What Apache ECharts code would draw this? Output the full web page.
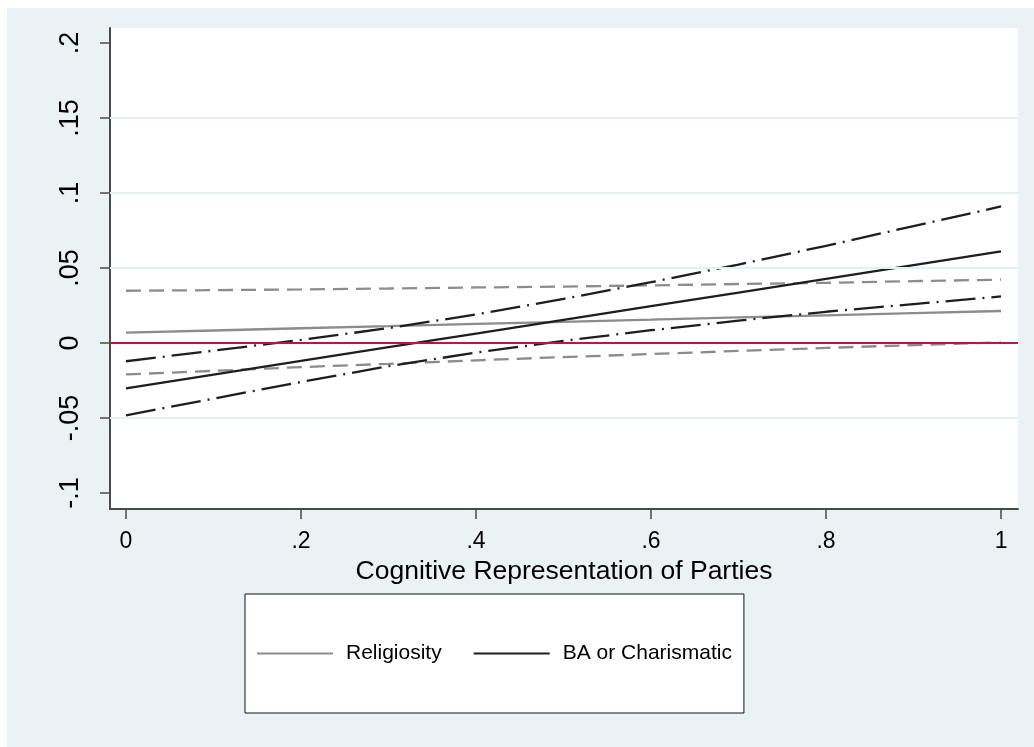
<!DOCTYPE html>
<html>
<head>
<meta charset="utf-8">
<title>Cognitive Representation of Parties</title>
<script src="https://cdn.jsdelivr.net/npm/echarts@6/dist/echarts.min.js"></script>
<style>
  html, body { margin: 0; padding: 0; background: #ffffff; width: 1034px; height: 747px; overflow: hidden; }
  #chart { position: absolute; left: 7px; top: 8px; width: 1027px; height: 739px; }
</style>
</head>
<body>
<div id="chart"></div>
<script>
// Predicted effects across cognitive representation of parties (0..1)
const xValues = [0, 0.1, 0.2, 0.3, 0.4, 0.5, 0.6, 0.7, 0.8, 0.9, 1];

// Religiosity: estimate with upper / lower confidence bounds
const religiosity   = [0.0069, 0.0083, 0.0098, 0.0112, 0.0127, 0.0141, 0.0155, 0.0170, 0.0184, 0.0199, 0.0213];
const religiosityHi = [0.0348, 0.0352, 0.0357, 0.0363, 0.0370, 0.0376, 0.0384, 0.0393, 0.0401, 0.0412, 0.0422];
const religiosityLo = [-0.0210, -0.0186, -0.0161, -0.0139, -0.0116, -0.0094, -0.0074, -0.0053, -0.0033, -0.0014, 0.0004];

// BA or Charismatic: estimate with upper / lower confidence bounds
const baCharismatic   = [-0.0302, -0.0211, -0.0120, -0.0028, 0.0063, 0.0154, 0.0245, 0.0336, 0.0428, 0.0519, 0.0610];
const baCharismaticHi = [-0.0122, -0.0051, 0.0020, 0.0099, 0.0190, 0.0294, 0.0405, 0.0523, 0.0648, 0.0779, 0.0910];
const baCharismaticLo = [-0.0482, -0.0371, -0.0260, -0.0155, -0.0064, 0.0014, 0.0085, 0.0149, 0.0208, 0.0259, 0.0310];

// Axis ticks and their labels
const xTicks = [0, 0.2, 0.4, 0.6, 0.8, 1];
const xTickLabels = ['0', '.2', '.4', '.6', '.8', '1'];
const yTicks = [-0.1, -0.05, 0, 0.05, 0.1, 0.15, 0.2];
const yTickLabels = ['-.1', '-.05', '0', '.05', '.1', '.15', '.2'];
const yGridLines = [-0.05, 0.05, 0.1, 0.15];
const zeroLine = 0;

const xTitle = 'Cognitive Representation of Parties';
const legendNames = ['Religiosity', 'BA or Charismatic'];

const FONT = '"Liberation Sans", Arial, Helvetica, sans-serif';
const GRAY = '#8c8c8c';
const DARK = '#1e1e1e';
const AXIS = '#4a4a4a';

function pairs(ys) { return xValues.map((x, i) => [x, ys[i]]); }
function labelFor(ticks, labels) {
  return function (v) {
    for (let i = 0; i < ticks.length; i++) {
      if (Math.abs(ticks[i] - v) < 1e-9) return labels[i];
    }
    return '';
  };
}

function lineSeries(name, ys, color, type, width) {
  return {
    name: name,
    type: 'line',
    data: pairs(ys),
    symbol: 'none',
    silent: true,
    lineStyle: { color: color, width: width, type: type },
    itemStyle: { color: color },
    z: 3
  };
}

const chart = echarts.init(document.getElementById('chart'));
chart.setOption({
  animation: false,
  backgroundColor: '#EAF2F3',
  textStyle: { fontFamily: FONT },
  grid: { left: 103, top: 20, right: 16, bottom: 238, show: true, backgroundColor: '#ffffff', borderWidth: 0 },
  xAxis: {
    type: 'value',
    min: -0.0183,
    max: 1.0194,
    axisLine: { onZero: false, lineStyle: { color: AXIS, width: 2 } },
    axisTick: { customValues: xTicks, length: 10, lineStyle: { color: AXIS, width: 1.5 } },
    axisLabel: { customValues: xTicks, formatter: labelFor(xTicks, xTickLabels), fontSize: 23, color: '#000', margin: 21, fontFamily: FONT },
    splitLine: { show: false },
    name: xTitle,
    nameLocation: 'middle',
    nameGap: 43,
    nameTextStyle: { fontSize: 26.5, color: '#000', fontFamily: FONT }
  },
  yAxis: {
    type: 'value',
    min: -0.1107,
    max: 0.21,
    axisLine: { show: true, onZero: false, lineStyle: { color: AXIS, width: 2 } },
    axisTick: { show: true, customValues: yTicks, length: 10, lineStyle: { color: AXIS, width: 1.5 } },
    axisLabel: { customValues: yTicks, formatter: labelFor(yTicks, yTickLabels), rotate: 90, fontSize: 27, color: '#000', margin: 26, fontFamily: FONT },
    splitLine: { show: false }
  },
  legend: {
    data: legendNames,
    left: 238,
    top: 586,
    orient: 'horizontal',
    icon: 'rect',
    itemWidth: 76,
    itemHeight: 2,
    itemGap: 32,
    padding: [49, 12, 49, 12],
    borderColor: '#111',
    borderWidth: 1,
    borderRadius: 0,
    backgroundColor: '#ffffff',
    selectedMode: false,
    textStyle: { fontSize: 21, color: '#000', fontFamily: FONT, padding: [0, 0, 0, 8] }
  },
  series: [
    {
      name: 'reference lines',
      type: 'line',
      data: [],
      silent: true,
      z: 1,
      markLine: {
        silent: true,
        symbol: 'none',
        label: { show: false },
        animation: false,
        data: yGridLines.map(v => ({ yAxis: v, lineStyle: { color: '#E6EFF1', width: 2, type: 'solid' } }))
          .concat([{ yAxis: zeroLine, lineStyle: { color: '#B8173F', width: 2, type: 'solid' } }])
      }
    },
    lineSeries('Religiosity upper bound', religiosityHi, GRAY, [15, 8], 2.3),
    lineSeries('Religiosity lower bound', religiosityLo, GRAY, [15, 8], 2.3),
    lineSeries('Religiosity', religiosity, GRAY, 'solid', 2.3),
    lineSeries('BA or Charismatic upper bound', baCharismaticHi, DARK, [30, 7, 2, 7], 2.3),
    lineSeries('BA or Charismatic lower bound', baCharismaticLo, DARK, [30, 7, 2, 7], 2.3),
    lineSeries('BA or Charismatic', baCharismatic, DARK, 'solid', 2.3)
  ]
});
</script>
</body>
</html>
